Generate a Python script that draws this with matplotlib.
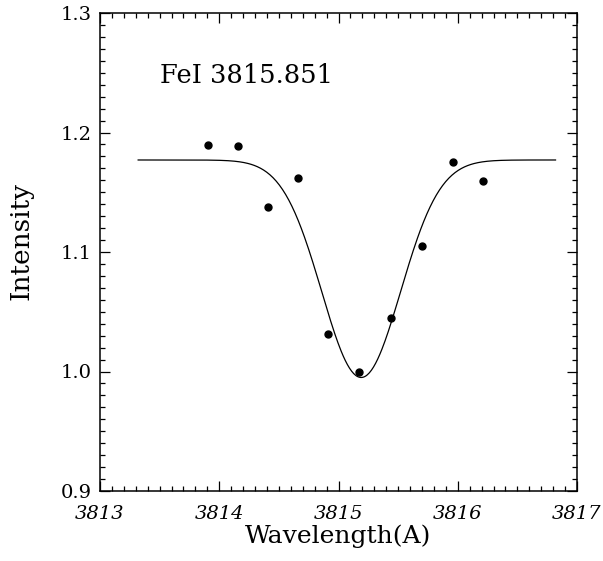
import numpy as np
import matplotlib
matplotlib.use("Agg")
import matplotlib.pyplot as plt
from matplotlib.ticker import MultipleLocator

# Observed points
wavelength = [3813.908, 3814.155, 3814.411, 3814.663, 3814.914,
              3815.172, 3815.440, 3815.698, 3815.958, 3816.214]
intensity = [1.1895, 1.189, 1.1374, 1.1622, 1.0314,
             0.9998, 1.0445, 1.105, 1.175, 1.1597]

# Gaussian fit parameters
continuum = 1.177
depth = 0.182
center = 3815.19
sigma = 0.33
fit_range = (3813.32, 3816.82)

label = "FeI 3815.851"
xlabel = "Wavelength(A)"
ylabel = "Intensity"

plt.rcParams['font.family'] = ['DejaVu Serif']

fig = plt.figure(figsize=(6.03, 5.61), dpi=100)
ax = fig.add_axes([100/603, 1-491/561, 477/603, 478/561])

xf = np.linspace(fit_range[0], fit_range[1], 400)
yf = continuum - depth*np.exp(-(xf-center)**2/(2*sigma**2))
ax.plot(xf, yf, color='black', lw=0.9)
ax.plot(wavelength, intensity, 'o', color='black', ms=5)

ax.set_xlim(3813, 3817)
ax.set_ylim(0.9, 1.3)
ax.xaxis.set_minor_locator(MultipleLocator(0.1))
ax.yaxis.set_minor_locator(MultipleLocator(0.01))
ax.set_xticks([3813, 3814, 3815, 3816, 3817])
ax.set_xticklabels(['3813', '3814', '3815', '3816', '3817'], fontstyle='italic')
ax.set_yticks([0.9, 1.0, 1.1, 1.2, 1.3])
ax.set_yticklabels(['0.9', '1.0', '1.1', '1.2', '1.3'])
ax.tick_params(which='both', direction='in', top=True, right=True, labelsize=14, width=0.9)
ax.tick_params(which='major', length=7)
ax.tick_params(which='minor', length=3.5)
ax.tick_params(axis='x', pad=10)
ax.tick_params(axis='y', pad=6)
for s in ax.spines.values():
    s.set_linewidth(1.1)

ax.text(3813.5, 1.2414, label, fontsize=18.5, va='baseline', ha='left')
ax.set_xlabel(xlabel, fontsize=18, labelpad=1)
ax.set_ylabel(ylabel, fontsize=19)
ax.yaxis.set_label_coords(-0.14, 0.523)

fig.savefig("out.png", dpi=100)
